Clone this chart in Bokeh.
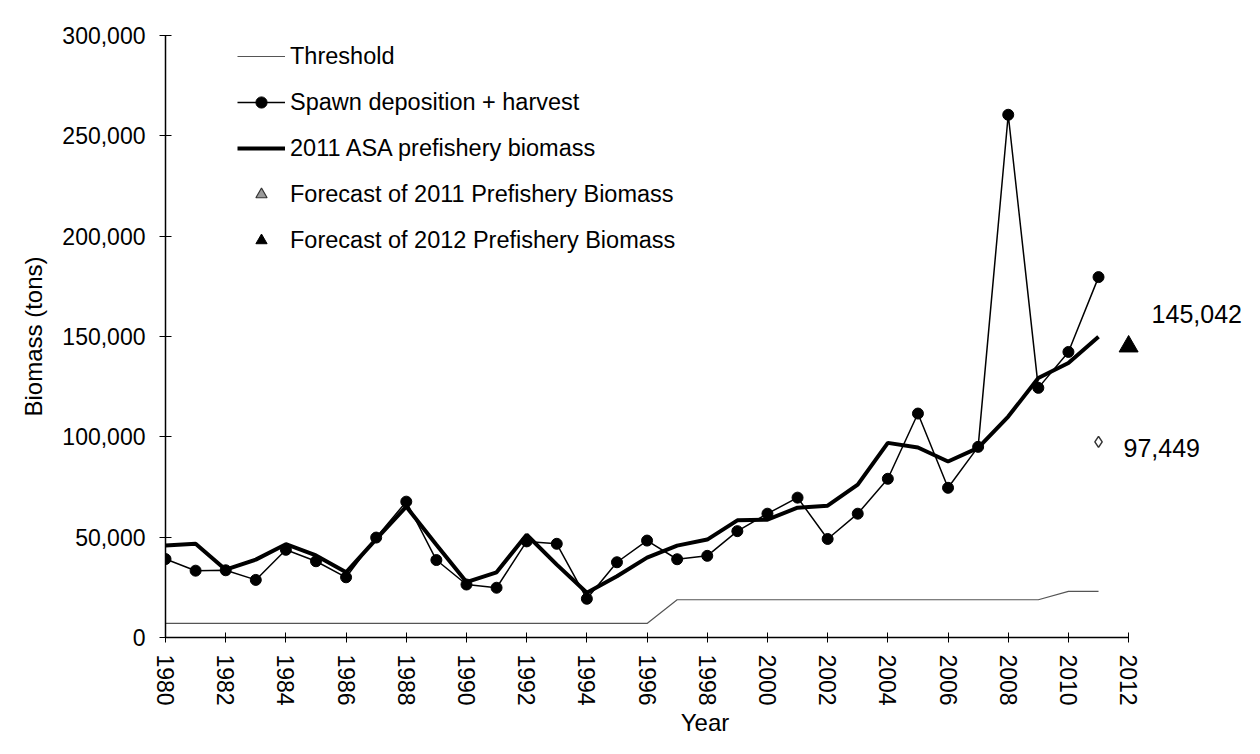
from bokeh.plotting import figure
from bokeh.models import (Range1d, FixedTicker, NumeralTickFormatter, Legend,
                          LegendItem, Label)
from bokeh.embed import file_html
from bokeh.resources import INLINE

# ---------------- data ----------------
years = list(range(1980, 2012))

threshold = [7000] * 17 + [18800] * 13 + [23000, 23000]

spawn = [39100, 33300, 33500, 28700, 43700, 38000, 30000, 49800, 67700, 38600,
         26400, 24800, 47900, 46700, 19300, 37500, 48300, 39000, 40700, 53000,
         61700, 69700, 49100, 61700, 79100, 111600, 74600, 95000, 260500, 124400,
         142300, 179600]

asa = [45900, 46700, 33800, 38800, 46500, 40900, 32500, 49000, 65200, 46200,
       27600, 32500, 51200, 36300, 22300, 30500, 39800, 45800, 48800, 58400,
       58700, 64700, 65700, 76200, 97000, 94700, 87700, 94500, 110100, 129300,
       136800, 149900]

forecast_2011_year = [2011]
forecast_2011 = [97449]
forecast_2012_year = [2012]
forecast_2012 = [145042]

x_ticks = [1980, 1982, 1984, 1986, 1988, 1990, 1992, 1994, 1996, 1998, 2000,
           2002, 2004, 2006, 2008, 2010, 2012]
y_ticks = [0, 50000, 100000, 150000, 200000, 250000, 300000]

legend_labels = ["Threshold", "Spawn deposition + harvest",
                 "2011 ASA prefishery biomass",
                 "Forecast of 2011 Prefishery Biomass",
                 "Forecast of 2012 Prefishery Biomass"]

FONT = "Liberation Sans"

# ---------------- figure ----------------
p = figure(width=1244, height=738, output_backend="svg", toolbar_location=None,
           x_range=Range1d(1980, 2015.85), y_range=Range1d(0, 300000),
           min_border_left=165, min_border_right=0, min_border_top=35,
           min_border_bottom=100)
p.outline_line_color = None
p.xgrid.visible = False
p.ygrid.visible = False
p.background_fill_color = "white"
p.border_fill_color = "white"

# x axis
xa = p.xaxis[0]
xa.ticker = FixedTicker(ticks=x_ticks)
xa.bounds = (x_ticks[0], x_ticks[-1])
xa.major_label_orientation = "vertical"
xa.minor_tick_line_color = None
xa.major_tick_in = 5
xa.major_tick_out = 5
xa.major_label_standoff = 12
xa.axis_line_width = 1.5
xa.axis_line_color = "black"
xa.major_tick_line_color = "black"
xa.major_label_text_font = FONT
xa.major_label_text_font_size = "23px"
xa.major_label_text_color = "black"
xa.axis_label = "Year"
xa.axis_label_text_font = FONT
xa.axis_label_text_font_size = "24px"
xa.axis_label_text_font_style = "normal"
xa.axis_label_text_color = "black"
xa.axis_label_standoff = 0

# y axis
ya = p.yaxis[0]
ya.ticker = FixedTicker(ticks=y_ticks)
ya.formatter = NumeralTickFormatter(format="0,0")
ya.minor_tick_line_color = None
ya.major_tick_in = 6
ya.major_tick_out = 6
ya.major_label_standoff = 14
ya.axis_line_width = 1.5
ya.axis_line_color = "black"
ya.major_tick_line_color = "black"
ya.major_label_text_font = FONT
ya.major_label_text_font_size = "23px"
ya.major_label_text_color = "black"
ya.axis_label = "Biomass (tons)"
ya.axis_label_text_font = FONT
ya.axis_label_text_font_size = "24px"
ya.axis_label_text_font_style = "normal"
ya.axis_label_text_color = "black"
ya.axis_label_standoff = 12

# ---------------- series ----------------
r_thr = p.line(years, threshold, line_color="#555555", line_width=1.2)
r_sp_line = p.line(years, spawn, line_color="black", line_width=1.5)
r_sp_pts = p.scatter(years, spawn, marker="circle", size=11, color="black")
r_asa = p.line(years, asa, line_color="black", line_width=4)
r_f11 = p.scatter(forecast_2011_year, forecast_2011, marker="diamond", size=11,
                  fill_color="white", line_color="#333333", line_width=1.5)
r_f12 = p.scatter(forecast_2012_year, forecast_2012, marker="triangle", size=19,
                  color="black")

# legend-only proxy for the 2011 forecast symbol (not drawn in the plot area)
proxy_f11 = p.scatter(x=forecast_2011_year, y=[float("nan")], marker="triangle",
                      fill_color="#9a9a9a", line_color="#333333",
                      line_width=1.2)

legend = Legend(items=[
    LegendItem(label=legend_labels[0], renderers=[r_thr]),
    LegendItem(label=legend_labels[1], renderers=[r_sp_line, r_sp_pts]),
    LegendItem(label=legend_labels[2], renderers=[r_asa]),
    LegendItem(label=legend_labels[3], renderers=[proxy_f11]),
    LegendItem(label=legend_labels[4], renderers=[r_f12]),
], location=(72, 383))
legend.glyph_width = 48
legend.glyph_height = 28
legend.label_height = 28
legend.spacing = 18
legend.padding = 0
legend.margin = 0
legend.label_standoff = 5
legend.label_text_font = FONT
legend.label_text_font_size = "23.5px"
legend.label_text_color = "black"
legend.border_line_alpha = 0
legend.background_fill_alpha = 0
p.add_layout(legend)

# value labels for forecasts
p.add_layout(Label(x=forecast_2012_year[0], y=forecast_2012[0], x_offset=23,
                   y_offset=32, text=f"{forecast_2012[0]:,}",
                   text_baseline="middle", text_font=FONT,
                   text_font_size="25px", text_color="black"))
p.add_layout(Label(x=forecast_2011_year[0], y=forecast_2011[0], x_offset=25,
                   y_offset=-6, text=f"{forecast_2011[0]:,}",
                   text_baseline="middle", text_font=FONT,
                   text_font_size="25px", text_color="black"))

open("out.html", "w").write(file_html(p, INLINE))
